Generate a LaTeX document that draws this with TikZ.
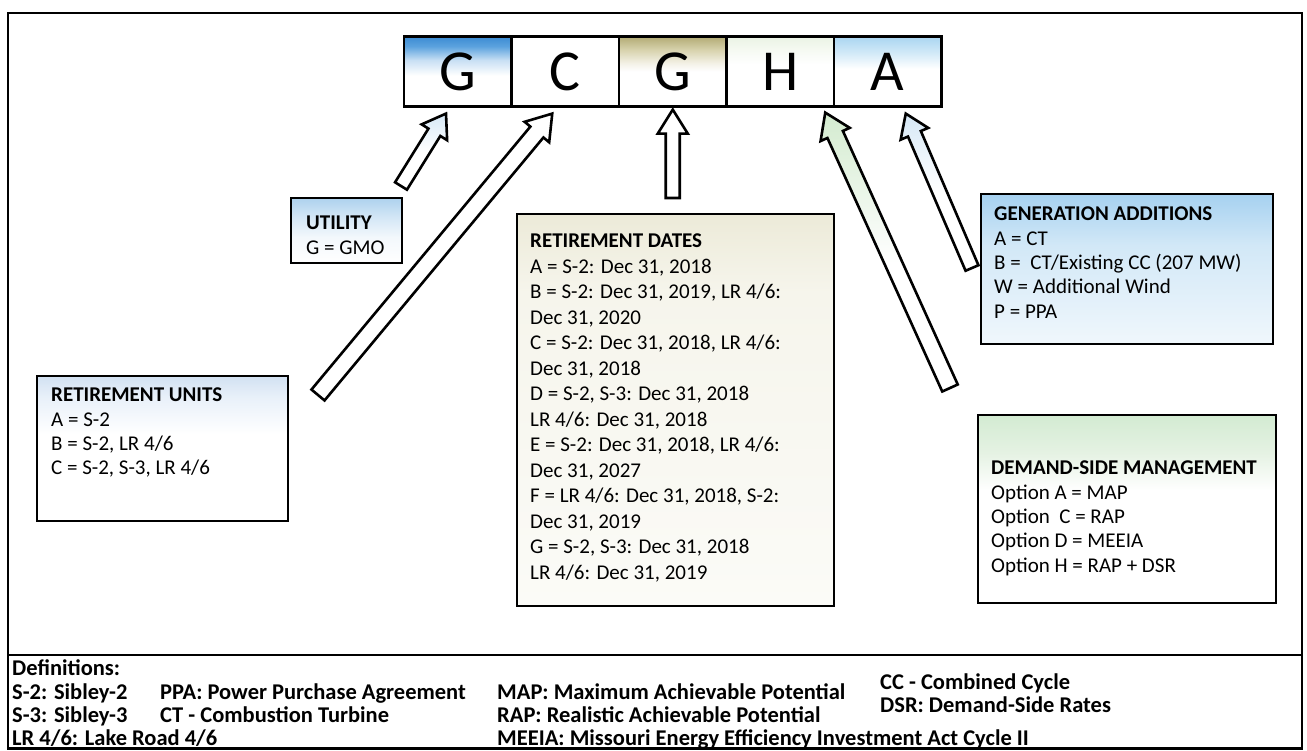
\documentclass[tikz,border=0pt]{standalone}
\usepackage{fontspec}
\setmainfont{Carlito}
\usetikzlibrary{calc}

\definecolor{cAtop}{HTML}{3C8BD3}
\definecolor{cAtwo}{HTML}{5BA2DE}
\definecolor{cAmid}{HTML}{C9E0F4}
\definecolor{cCtop}{HTML}{B2AA74}
\definecolor{cCmid}{HTML}{D9D4B0}
\definecolor{cClow}{HTML}{F3F1E6}
\definecolor{cDtop}{HTML}{EAF3E4}
\definecolor{cDmid}{HTML}{F6FAF3}
\definecolor{cEtop}{HTML}{A9D5F1}
\definecolor{cEmid}{HTML}{D3EAF8}
\definecolor{uTop}{HTML}{AED2EE}
\definecolor{uMid}{HTML}{D4E7F6}
\definecolor{uLow}{HTML}{F3F8FC}
\definecolor{rTop}{HTML}{D2E1F2}
\definecolor{rMid}{HTML}{E8F0F9}
\definecolor{dTop}{HTML}{ECEAD8}
\definecolor{dMid}{HTML}{F6F5EC}
\definecolor{dLow}{HTML}{FBFBF7}
\definecolor{gTop}{HTML}{A6D1F0}
\definecolor{gMid}{HTML}{D2E8F7}
\definecolor{gLow}{HTML}{F0F7FC}
\definecolor{mTop}{HTML}{D3EBD2}
\definecolor{mMid}{HTML}{E5F2E3}
\definecolor{aBlue}{HTML}{D6E8F6}
\definecolor{aGreen}{HTML}{D3EBCF}

% visible range of a declared shading: 25bp (bottom) .. 75bp (top)
\pgfdeclareverticalshading{shcA}{100bp}{color(0bp)=(white); color(47bp)=(white); color(58bp)=(cAmid); color(68bp)=(cAtwo); color(75bp)=(cAtop); color(100bp)=(cAtop)}
\pgfdeclareverticalshading{shcC}{100bp}{color(0bp)=(white); color(50bp)=(white); color(56bp)=(cClow); color(65bp)=(cCmid); color(75bp)=(cCtop); color(100bp)=(cCtop)}
\pgfdeclareverticalshading{shcD}{100bp}{color(0bp)=(white); color(55bp)=(white); color(65bp)=(cDmid); color(75bp)=(cDtop); color(100bp)=(cDtop)}
\pgfdeclareverticalshading{shcE}{100bp}{color(0bp)=(white); color(52bp)=(white); color(63bp)=(cEmid); color(75bp)=(cEtop); color(100bp)=(cEtop)}
\pgfdeclareverticalshading{shutil}{100bp}{color(0bp)=(white); color(25bp)=(white); color(45bp)=(uLow); color(60bp)=(uMid); color(75bp)=(uTop); color(100bp)=(uTop)}
\pgfdeclareverticalshading{shrunits}{100bp}{color(0bp)=(white); color(55bp)=(white); color(68bp)=(rMid); color(75bp)=(rTop); color(100bp)=(rTop)}
\pgfdeclareverticalshading{shrdates}{100bp}{color(0bp)=(dLow); color(25bp)=(dLow); color(65bp)=(dMid); color(75bp)=(dTop); color(100bp)=(dTop)}
\pgfdeclareverticalshading{shgen}{100bp}{color(0bp)=(gLow); color(25bp)=(gLow); color(58bp)=(gMid); color(75bp)=(gTop); color(100bp)=(gTop)}
\pgfdeclareverticalshading{shdsm}{100bp}{color(0bp)=(white); color(55bp)=(white); color(65bp)=(mMid); color(75bp)=(mTop); color(100bp)=(mTop)}
\pgfdeclareverticalshading{sharrblue}{100bp}{color(0bp)=(white); color(50bp)=(white); color(75bp)=(aBlue); color(100bp)=(aBlue)}
\pgfdeclareverticalshading{sharrgreen}{100bp}{color(0bp)=(white); color(48bp)=(white); color(75bp)=(aGreen); color(100bp)=(aGreen)}

\tikzset{
  frameline/.style={draw=black, line width=2.4pt},
  cellbox/.style={draw=black, line width=2.2pt, minimum width=107.5pt, minimum height=70pt,
    inner sep=0pt, font=\fontsize{58}{62}\selectfont},
  infobox/.style={draw=black, line width=2.4pt, anchor=north west, inner sep=0pt},
  infotext/.style={anchor=north west, inner sep=0pt, align=left,
    font=\fontsize{21}{24.3}\selectfont},
  datestext/.style={infotext, font=\fontsize{21}{25.5}\selectfont},
  deftext/.style={anchor=base west, inner sep=0pt, font=\bfseries\fontsize{22.5}{25}\selectfont},
  blockarr/.style={draw=black, line width=2.6pt, line join=miter, fill=white},
}

% block (hollow) arrow: #1 style, #2 tail, #3 tip, #4 shaft half width, #5 head half width, #6 head length
\newcommand{\blkarrow}[6]{%
  \coordinate (bahead) at ($(#3)!#6!(#2)$);
  \draw[#1] ($(#2)!#4!90:(#3)$) -- ($(bahead)!#4!90:(#3)$) -- ($(bahead)!#5!90:(#3)$)
    -- (#3) -- ($(bahead)!#5!-90:(#3)$) -- ($(bahead)!#4!-90:(#3)$)
    -- ($(#2)!#4!-90:(#3)$) -- cycle;
}

\begin{document}
\begin{tikzpicture}[x=1pt,y=-1pt]
\useasboundingbox (0,0) rectangle (1307,750);
\fill[white] (0,0) rectangle (1307,750);

% outer frame and divider
\draw[frameline] (8,13) rectangle (1302,748.5);
\draw[frameline] (8,655) -- (1302,655);

% name cells
\node[cellbox, shade, shading=shcA] (c1) at (457.75,71.5) {G};
\node[cellbox] (c2) at (565.25,71.5) {C};
\node[cellbox, shade, shading=shcC] (c3) at (672.75,71.5) {G};
\node[cellbox, shade, shading=shcD] (c4) at (780.25,71.5) {H};
\node[cellbox, shade, shading=shcE] (c5) at (887.75,71.5) {A};

% boxes
\node[infobox, shade, shading=shutil, minimum width=111pt, minimum height=65pt] (util) at (290,197) {};
\node[infotext] (utiltxt) at (306,216) {\textbf{UTILITY}\\G = GMO};

\node[infobox, shade, shading=shrunits, minimum width=251pt, minimum height=145pt] (runits) at (35.5,375) {};
\node[infotext] (runitstxt) at (51,388) {\textbf{RETIREMENT UNITS}\\A = S-2\\B = S-2, LR 4/6\\C = S-2, S-3, LR 4/6};

\node[infobox, shade, shading=shrdates, minimum width=317pt, minimum height=392pt] (rdates) at (515.5,212.5) {};
\node[datestext] (rdatestxt) at (530,234) {\textbf{RETIREMENT DATES}\\
A = S-2: Dec 31, 2018\\
B = S-2: Dec 31, 2019, LR 4/6:\\
Dec 31, 2020\\
C = S-2: Dec 31, 2018, LR 4/6:\\
Dec 31, 2018\\
D = S-2, S-3: Dec 31, 2018\\
LR 4/6: Dec 31, 2018\\
E = S-2: Dec 31, 2018, LR 4/6:\\
Dec 31, 2027\\
F = LR 4/6: Dec 31, 2018, S-2:\\
Dec 31, 2019\\
G = S-2, S-3: Dec 31, 2018\\
LR 4/6: Dec 31, 2019};

\node[infobox, shade, shading=shgen, minimum width=292pt, minimum height=150pt] (gen) at (980,193) {};
\node[infotext] (gentxt) at (994,207) {\textbf{GENERATION ADDITIONS}\\
A = CT\\
B = \ CT/Existing CC (207 MW)\\
W = Additional Wind\\
P = PPA};

\node[infobox, shade, shading=shdsm, minimum width=298pt, minimum height=188pt] (dsm) at (977,414) {};
\node[infotext] (dsmtxt) at (991,461) {\textbf{DEMAND-SIDE MANAGEMENT}\\
Option A = MAP\\
Option \ C = RAP\\
Option D = MEEIA\\
Option H = RAP + DSR};

% arrow ends
\coordinate (t1) at (401,186);
\coordinate (h1) at ($(c1.south)+(-11.75,6)$);
\coordinate (t2) at (318,395);
\coordinate (h2) at ($(c2.south)+(-13,6)$);
\coordinate (t3) at (672.75,198);
\coordinate (h3) at ($(c3.south)+(0,2)$);
\coordinate (t4) at (950,388);
\coordinate (h4) at ($(c4.south)+(45,5)$);
\coordinate (t5) at (972,268);
\coordinate (h5) at ($(c5.south)+(18,6)$);

\blkarrow{blockarr, shade, shading=sharrblue}{t1}{h1}{7pt}{15pt}{22pt}
\blkarrow{blockarr}{t2}{h2}{8.5pt}{16pt}{24pt}
\blkarrow{blockarr}{t3}{h3}{7pt}{15pt}{24pt}
\blkarrow{blockarr, shade, shading=sharrgreen}{t4}{h4}{8.5pt}{16pt}{24pt}
\blkarrow{blockarr, shade, shading=sharrblue}{t5}{h5}{7pt}{15pt}{22pt}

% definitions
\node[deftext] (d0) at (12,675) {Definitions:};
\node[deftext] (d1) at (12,699) {S-2: Sibley-2};
\node[deftext] (d2) at (12,722.5) {S-3: Sibley-3};
\node[deftext] (d3) at (12,745.5) {LR 4/6: Lake Road 4/6};
\node[deftext] (d4) at (160,699) {PPA: Power Purchase Agreement};
\node[deftext] (d5) at (160,722.5) {CT - Combustion Turbine};
\node[deftext] (d6) at (497,699) {MAP: Maximum Achievable Potential};
\node[deftext] (d7) at (497,722.5) {RAP: Realistic Achievable Potential};
\node[deftext] (d8) at (497,745.5) {MEEIA: Missouri Energy Efficiency Investment Act Cycle II};
\node[deftext] (d9) at (880,689) {CC - Combined Cycle};
\node[deftext] (d10) at (880,712.5) {DSR: Demand-Side Rates};
\end{tikzpicture}
\end{document}
